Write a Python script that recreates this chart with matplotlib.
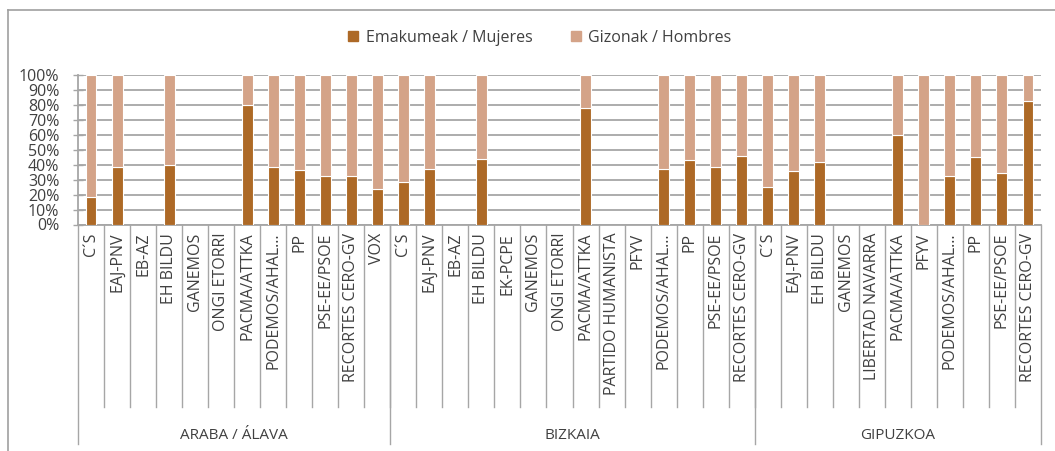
"""Women / men share of candidates per party and territory"""
import numpy as np
import matplotlib.pyplot as plt
from matplotlib.patches import Patch
from matplotlib.lines import Line2D

plt.rcParams['font.family'] = ['Open Sans', 'DejaVu Sans']

# Data (nan = party not present / no candidates)
nan = np.nan
araba_parties = ['C´S', 'EAJ-PNV', 'EB-AZ', 'EH BILDU', 'GANEMOS', 'ONGI ETORRI',
                 'PACMA/ATTKA', 'PODEMOS/AHAL...', 'PP', 'PSE-EE/PSOE',
                 'RECORTES CERO-GV', 'VOX']
araba_women = [18.5, 38.5, nan, 39.5, nan, nan, 80, 38.5, 36.5, 32.5, 32.5, 24]

bizkaia_parties = ['C´S', 'EAJ-PNV', 'EB-AZ', 'EH BILDU', 'EK-PCPE', 'GANEMOS',
                   'ONGI ETORRI', 'PACMA/ATTKA', 'PARTIDO HUMANISTA', 'PFYV',
                   'PODEMOS/AHAL...', 'PP', 'PSE-EE/PSOE', 'RECORTES CERO-GV']
bizkaia_women = [28.5, 37, nan, 43.8, nan, nan, nan, 77.8, nan, nan, 37, 43, 38.5, 45.7]

gipuzkoa_parties = ['C´S', 'EAJ-PNV', 'EH BILDU', 'GANEMOS', 'LIBERTAD NAVARRA',
                    'PACMA/ATTKA', 'PFYV', 'PODEMOS/AHAL...', 'PP', 'PSE-EE/PSOE',
                    'RECORTES CERO-GV']
gipuzkoa_women = [25, 35.5, 42, nan, nan, 60, 0, 32.5, 45, 34.5, 82.5]

groups = ['ARABA / ÁLAVA', 'BIZKAIA', 'GIPUZKOA']
group_parties = [araba_parties, bizkaia_parties, gipuzkoa_parties]
group_women = [araba_women, bizkaia_women, gipuzkoa_women]

labels = sum(group_parties, [])
women = np.array(sum(group_women, []), dtype=float)
men = 100 - women

DARK = '#AD6926'
LIGHT = '#D4A388'
GRID = '#A6A6A6'
TEXT = '#404040'

fig = plt.figure(figsize=(10.55, 4.51), dpi=100)
ax = fig.add_axes([78 / 1055, 1 - 224.5 / 451, (1041 - 78) / 1055, 149.5 / 451])

x = np.arange(len(labels))
ax.bar(x, women, width=0.42, color=DARK, edgecolor='white', linewidth=0.8, zorder=3)
ax.bar(x, men, bottom=women, width=0.42, color=LIGHT, edgecolor='white',
       linewidth=0.8, zorder=3)

ax.set_xlim(-0.5, len(labels) - 0.5)
ax.set_ylim(0, 100)
ax.set_yticks(np.arange(0, 101, 10))
ax.set_yticklabels([f'{v}%' for v in range(0, 101, 10)], fontsize=11.5, color=TEXT)
ax.yaxis.grid(True, color=GRID, linewidth=1.3, zorder=0)
ax.tick_params(axis='y', length=7, direction='inout', color=GRID, width=1, pad=10)

ax.set_xticks(x)
ax.set_xticklabels(labels, rotation=90, fontsize=11.5, color=TEXT)
ax.tick_params(axis='x', length=0, pad=6)

for side in ('top', 'right'):
    ax.spines[side].set_visible(False)
for side in ('left', 'bottom'):
    ax.spines[side].set_color(GRID)
    ax.spines[side].set_linewidth(1.3)

# Category separators and group separators below the axis
trans = ax.get_xaxis_transform()
for i in range(1, len(labels)):
    ax.plot([i - 0.5, i - 0.5], [0, -1.22], transform=trans, color=GRID,
            linewidth=1, clip_on=False)
start = 0
bounds = [-0.5]
for name, parties in zip(groups, group_parties):
    end = start + len(parties)
    bounds.append(end - 0.5)
    ax.text((start + end - 1) / 2, -1.41, name, transform=trans, ha='center',
            va='center', fontsize=11, color=TEXT)
    start = end
for b in bounds:
    ax.plot([b, b], [0, -1.47], transform=trans, color=GRID, linewidth=1,
            clip_on=False)

# Legend
handles = [Patch(color=DARK, label='Emakumeak / Mujeres'),
           Patch(color=LIGHT, label='Gizonak / Hombres')]
leg = fig.legend(handles=handles, loc='center', bbox_to_anchor=(540 / 1055, 1 - 38 / 451),
                 ncol=2, frameon=False, fontsize=11.5, handlelength=0.6,
                 handleheight=0.6, handletextpad=0.5, columnspacing=2.4)
for t in leg.get_texts():
    t.set_color(TEXT)

# Chart area border (cropped at right and bottom)
fig.add_artist(Line2D([7.5 / 1055, 7.5 / 1055], [0, 1 - 10 / 451], color='#A0A0A0',
                      linewidth=1.2))
fig.add_artist(Line2D([7.5 / 1055, 1], [1 - 10 / 451, 1 - 10 / 451], color='#A0A0A0',
                      linewidth=1.2))

fig.savefig('out.png', dpi=100)
